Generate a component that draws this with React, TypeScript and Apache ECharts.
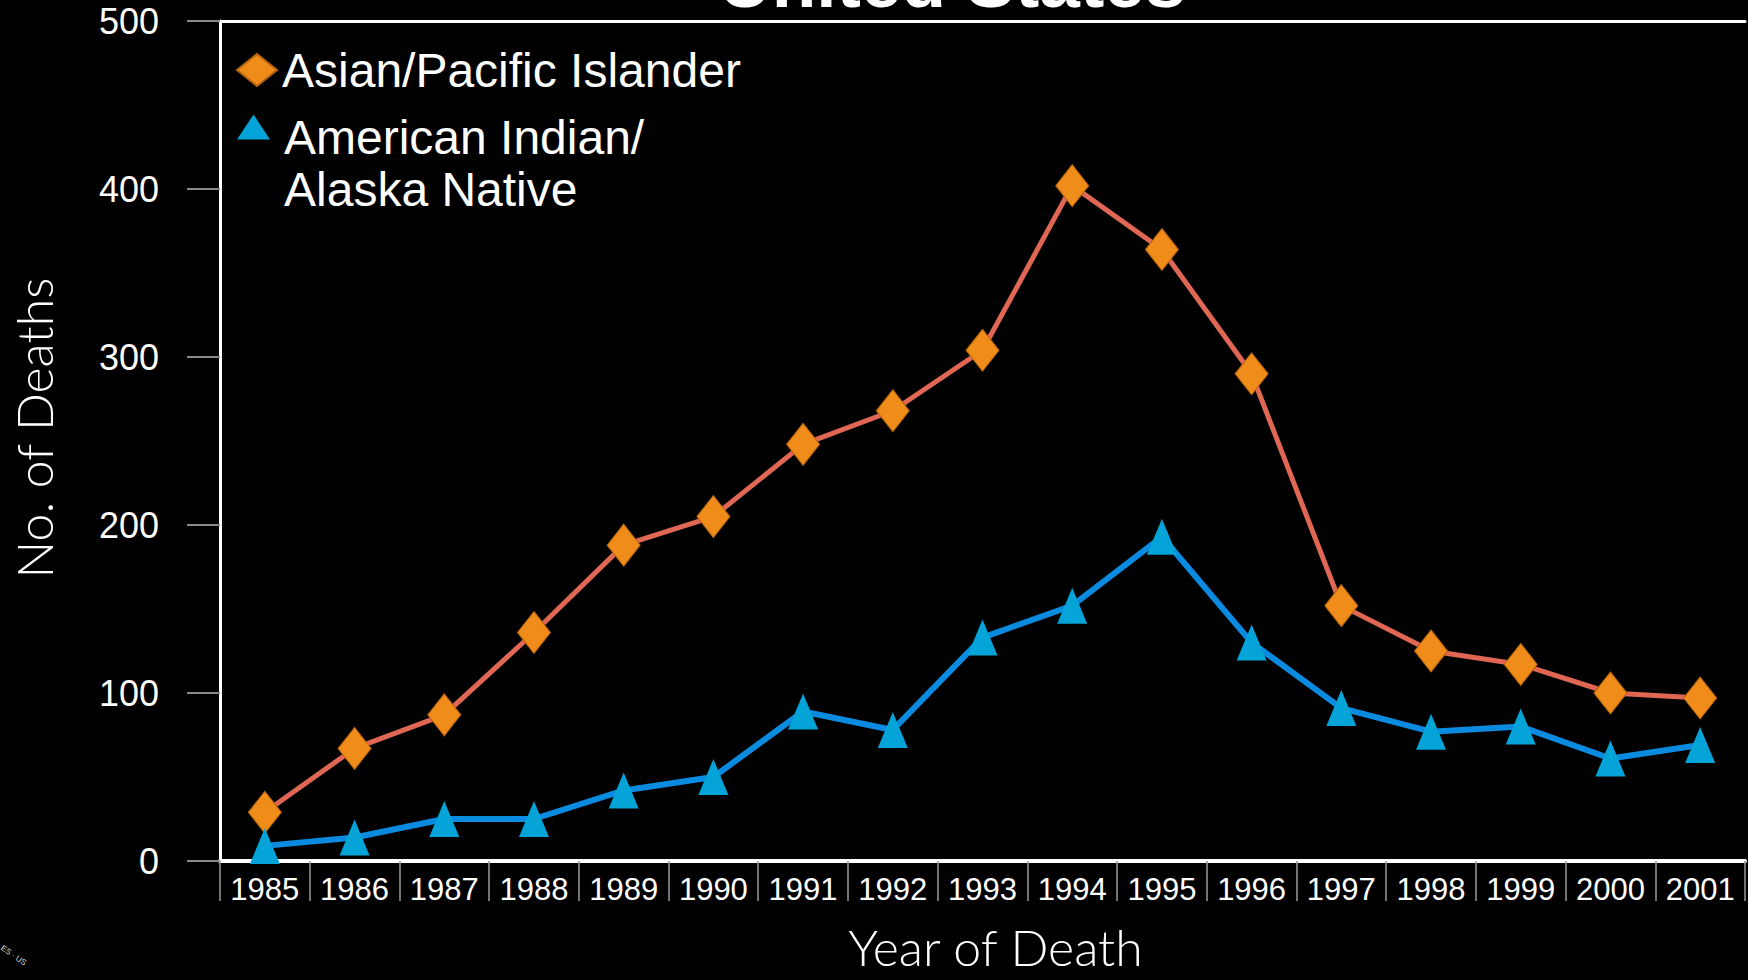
import React, { useEffect, useRef } from "react";
import * as echarts from "echarts";

const years = ["1985","1986","1987","1988","1989","1990","1991","1992","1993","1994","1995","1996","1997","1998","1999","2000","2001"];
const asianPacificIslander = [29, 67, 87, 136, 188, 205, 248, 268, 304, 402, 364, 290, 152, 125, 117, 100, 97];
const americanIndianAlaskaNative = [9, 14, 25, 25, 42, 50, 89, 78, 133, 152, 193, 130, 91, 77, 80, 61, 69];
const yTicks = { min: 0, max: 500, interval: 100 };
const seriesNames = ["Asian/Pacific Islander", "American Indian/Alaska Native"];
const legendLines = ["American Indian/", "Alaska Native"];
const titleText = "United States";
const xName = "Year of Death";
const yName = "No. of Deaths";

const SANS = "'Liberation Sans', Arial, sans-serif";
const GEO = "Lato, 'Noto Sans', sans-serif";

export default function App() {
  const ref = useRef<HTMLDivElement>(null);
  useEffect(() => {
    if (!ref.current) return;
    const chart = echarts.init(ref.current, null, { renderer: "svg" });
    chart.setOption({
      animation: false,
      backgroundColor: "#000000",
      title: {
        text: titleText,
        left: 719,
        top: -55,
        padding: 0,
        textStyle: { color: "#ffffff", fontSize: 73, fontWeight: "bold", fontFamily: SANS },
      },
      legend: [
        {
          data: [{ name: seriesNames[0], icon: "diamond" }],
          left: 236,
          top: 46,
          padding: 0,
          itemWidth: 40,
          itemHeight: 32,
          selectedMode: false,
          textStyle: { color: "#ffffff", fontSize: 48, fontFamily: SANS },
        },
        {
          data: [{ name: seriesNames[1], icon: "triangle" }],
          left: 237,
          top: 70,
          padding: 0,
          itemWidth: 33,
          itemHeight: 25,
          selectedMode: false,
          formatter: () => `{s| }\n{a|${legendLines[0]}}\n{a|${legendLines[1]}}`,
          textStyle: {
            color: "#ffffff",
            fontSize: 48,
            fontFamily: SANS,
            rich: {
              s: { fontSize: 10, lineHeight: 73 },
              a: { color: "#ffffff", fontSize: 48, lineHeight: 52, fontFamily: SANS, padding: [0, 0, 0, 9] },
            },
          },
        },
      ],
      grid: { left: 220, right: 3, top: 21, bottom: 119, containLabel: false, outerBoundsMode: "none" },
      xAxis: [
        {
          type: "category",
          data: years,
          boundaryGap: true,
          position: "bottom",
          axisLine: { show: true, lineStyle: { color: "#ffffff", width: 4 } },
          axisTick: { show: true, interval: 0, length: 40, lineStyle: { color: "#9a9a9a", width: 1.5 } },
          axisLabel: { interval: 0, color: "#ffffff", fontSize: 31, fontFamily: SANS, margin: 13 },
          splitLine: { show: false },
          name: xName,
          nameLocation: "middle",
          nameGap: 61,
          nameTextStyle: { color: "#ffffff", fontSize: 50, fontWeight: 300, fontFamily: GEO, padding: [0, 0, 0, 26] },
        },
        {
          type: "category",
          data: years,
          position: "top",
          axisLine: { show: true, lineStyle: { color: "#ffffff", width: 3 } },
          axisTick: { show: false },
          axisLabel: { show: false },
          splitLine: { show: false },
        },
      ],
      yAxis: {
        type: "value",
        min: yTicks.min,
        max: yTicks.max,
        interval: yTicks.interval,
        axisLine: { show: true, lineStyle: { color: "#ffffff", width: 3 } },
        axisTick: { show: true, length: 33, lineStyle: { color: "#8a8a8a", width: 2 } },
        axisLabel: { color: "#ffffff", fontSize: 36, fontFamily: SANS, margin: 61 },
        splitLine: { show: false },
        name: yName,
        nameLocation: "middle",
        nameRotate: 90,
        nameGap: 161,
        nameTextStyle: { color: "#ffffff", fontSize: 50, fontWeight: 300, fontFamily: GEO, padding: [0, 0, 0, 26] },
      },
      series: [
        {
          name: seriesNames[0],
          type: "line",
          data: asianPacificIslander,
          symbol: "diamond",
          symbolSize: [33, 42],
          itemStyle: { color: "#F08C1A", borderColor: "#B8650C", borderWidth: 1 },
          lineStyle: { color: "#DF6753", width: 5 },
        },
        {
          name: seriesNames[1],
          type: "line",
          data: americanIndianAlaskaNative,
          symbol: "triangle",
          symbolSize: [30, 36],
          itemStyle: { color: "#04A3D8" },
          lineStyle: { color: "#0A8BE0", width: 6 },
        },
      ],
      graphic: [
        {
          type: "text",
          x: 4,
          y: 944,
          rotation: -0.6,
          style: { text: "ES · US", fill: "#dddddd", fontSize: 8, fontFamily: SANS },
        },
      ],
    });
    return () => chart.dispose();
  }, []);
  return (
    <div
      ref={ref}
      style={{ position: "fixed", left: 0, top: 0, width: 1748, height: 980, background: "#000" }}
    />
  );
}
